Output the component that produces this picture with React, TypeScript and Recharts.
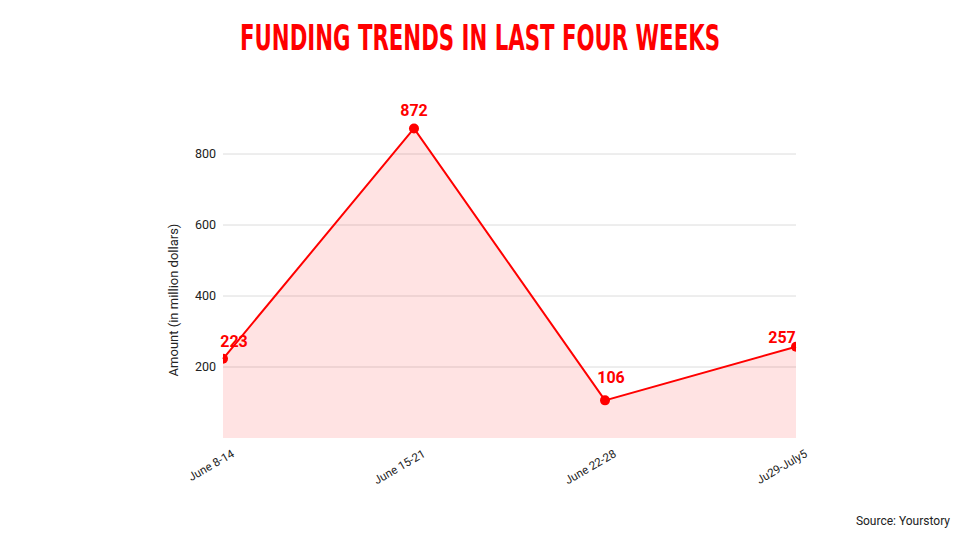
import React from 'react';
import { AreaChart, Area, XAxis, YAxis, CartesianGrid, LabelList } from 'recharts';

const weeks = ['June 8-14', 'June 15-21', 'June 22-28', 'Ju29-July5'];
const amounts = [223, 872, 106, 257];
const yTicks = [200, 400, 600, 800];

const data = weeks.map((week, i) => ({ week, amount: amounts[i] }));

const RED = '#ff0000';
const FONT = 'Roboto, "Noto Sans", sans-serif';

const XTick = (props: any) => {
  const { x, y, payload } = props;
  const ax = x + 8;
  const ay = y + 3;
  return (
    <text
      x={ax}
      y={ay}
      dy="0.71em"
      textAnchor="end"
      transform={`rotate(-30, ${ax}, ${ay})`}
      fontSize={11.5}
      fontFamily={FONT}
      fill="#222"
    >
      {payload.value}
    </text>
  );
};

// dots at the plot edges are cut in half, like the original
const EdgeDot = (props: any) => {
  const { cx, cy, index } = props;
  const r = 5;
  if (cx == null || cy == null) return null;
  if (index === 0) {
    return <path d={`M${cx},${cy - r} A${r},${r} 0 0 1 ${cx},${cy + r} Z`} fill={RED} />;
  }
  if (index === amounts.length - 1) {
    return <path d={`M${cx},${cy - r} A${r},${r} 0 0 0 ${cx},${cy + r} Z`} fill={RED} />;
  }
  return <circle cx={cx} cy={cy} r={r} fill={RED} />;
};

const ValueLabel = (props: any) => {
  const { x, y, value, index } = props;
  let dx = 0;
  let dy = -12;
  const last = amounts.length - 1;
  if (index === 0) dx = 11;
  if (index === last) {
    dx = -14;
    dy = -4;
  }
  // a dip: put the label a bit higher and to the right, clear of both segments
  if (index > 0 && index < last && value < amounts[index - 1] && value < amounts[index + 1]) {
    dx = 6;
    dy = -17;
  }
  return (
    <text
      x={x + dx}
      y={y + dy}
      textAnchor="middle"
      fontSize={16}
      fontWeight="bold"
      fontFamily={FONT}
      fill={RED}
    >
      {value}
    </text>
  );
};

const YTitle = (props: any) => {
  const { viewBox } = props;
  const cx = viewBox.x + 10;
  const cy = 300;
  return (
    <text
      x={cx}
      y={cy}
      transform={`rotate(-90, ${cx}, ${cy})`}
      textAnchor="middle"
      dominantBaseline="central"
      fontSize={13}
      fontFamily={FONT}
      fill="#222"
    >
      Amount (in million dollars)
    </text>
  );
};

export default function App() {
  return (
    <div style={{ position: 'absolute', left: 0, top: 0, width: 960, height: 540, background: '#fff', overflow: 'hidden' }}>
      <svg width={960} height={70} style={{ position: 'absolute', left: 0, top: 0 }}>
        <text
          x={480}
          y={50}
          textAnchor="middle"
          textLength={480}
          lengthAdjust="spacingAndGlyphs"
          fontSize={36}
          fontWeight="bold"
          fontFamily='"Liberation Sans Narrow", "DejaVu Sans Condensed", sans-serif'
          fill={RED}
        >
          FUNDING TRENDS IN LAST FOUR WEEKS
        </text>
      </svg>
      <div style={{ position: 'absolute', left: 0, top: 0 }}>
        <AreaChart
          width={960}
          height={540}
          data={data}
          margin={{ top: 118.5, right: 164, bottom: 62, left: 163 }}
        >
          <CartesianGrid vertical={false} stroke="#dcdcdc" horizontalValues={yTicks} />
          <XAxis
            dataKey="week"
            axisLine={false}
            tickLine={false}
            height={40}
            interval={0}
            tick={<XTick />}
          />
          <YAxis
            width={60}
            domain={[0, 900]}
            ticks={yTicks}
            allowDataOverflow
            axisLine={false}
            tickLine={false}
            tickSize={0}
            tickMargin={7}
            tick={{ fontSize: 12.5, fill: '#222', fontFamily: FONT }}
            label={<YTitle />}
          />
          <Area
            type="linear"
            dataKey="amount"
            stroke={RED}
            strokeWidth={2}
            fill={RED}
            fillOpacity={0.11}
            dot={<EdgeDot />}
            activeDot={false}
            isAnimationActive={false}
          >
            <LabelList dataKey="amount" content={<ValueLabel />} />
          </Area>
        </AreaChart>
      </div>
      <div
        style={{
          position: 'absolute',
          right: 10,
          top: 514,
          fontSize: 12,
          fontFamily: FONT,
          color: '#222',
        }}
      >
        Source: Yourstory
      </div>
    </div>
  );
}
